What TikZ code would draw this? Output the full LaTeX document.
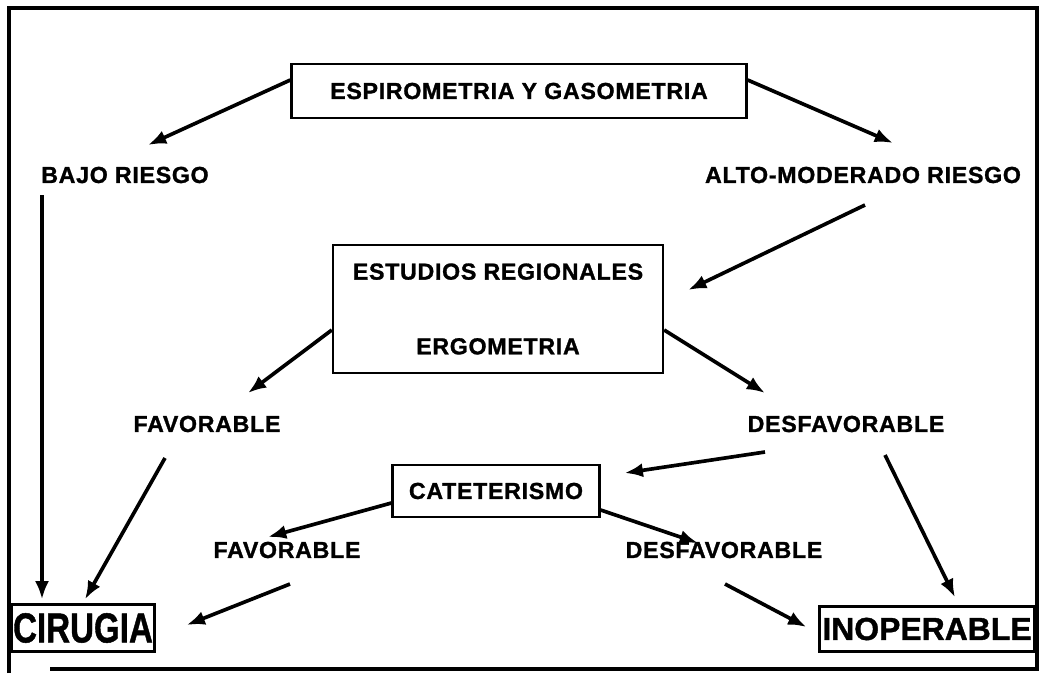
\documentclass[tikz,border=0pt]{standalone}
\usepackage{fontspec}
\setmainfont{Liberation Sans}
\newfontfamily\labelfont{Liberation Sans}[LetterSpace=3, BoldFeatures={FakeBold=1.2}]
\newfontfamily\bigfont{Liberation Sans}[BoldFeatures={FakeBold=1.2}]
\usetikzlibrary{arrows.meta}

\begin{document}
\begin{tikzpicture}[x=0.025cm, y=-0.025cm,
  font=\labelfont\bfseries\fontsize{16.5pt}{19pt}\selectfont,
  box/.style={draw, line width=1.6pt, inner sep=0pt, align=center},
  lbl/.style={inner sep=0pt},
  endbox/.style={box, font=\bigfont\bfseries\fontsize{#1}{34pt}\selectfont},
  arr/.style={-{Latex[length=13pt,width=10pt]}, line width=2.6pt}]
  \useasboundingbox (0,0) rectangle (1042,673);
  % frame
  \draw[line width=2.4pt] (9,673) -- (9,8) -- (1037,8) -- (1037,669) -- (50,669);
  % boxes and labels
  \node[box, minimum width=11.375cm, minimum height=1.35cm] (espiro) at (519,91) {ESPIROMETRIA Y GASOMETRIA};
  \node[lbl] (bajo) at (125,175) {BAJO RIESGO};
  \node[lbl] (alto) at (863,175) {ALTO-MODERADO RIESGO};
  \node[box, minimum width=8.25cm, minimum height=3.2cm] (estudios) at (498,309) {ESTUDIOS REGIONALES\\[1.2cm]ERGOMETRIA};
  \node[lbl] (fav) at (207,424) {FAVORABLE};
  \node[lbl] (desfav) at (846,424) {DESFAVORABLE};
  \node[box, minimum width=5.175cm, minimum height=1.3cm] (cat) at (496,491) {CATETERISMO};
  \node[lbl] (favcat) at (287,550) {FAVORABLE};
  \node[lbl] (desfavcat) at (724,550) {DESFAVORABLE};
  \node[endbox=29.8pt, minimum width=3.575cm, minimum height=1.175cm] (cirugia) at (83,628) {\scalebox{0.79}[1]{CIRUGIA}};
  \node[endbox=22.7pt, minimum width=5.375cm, minimum height=1.125cm] (inoper) at (927,629) {INOPERABLE};
  % arrows
  \draw[arr] ([shift={(0,-11)}]espiro.west) -- ([shift={(23,-30)}]bajo.center);
  \draw[arr] ([shift={(0,-11)}]espiro.east) -- ([shift={(30,-32)}]alto.center);
  \draw[arr] ([shift={(-83,20)}]bajo.center) -- ([shift={(-41,-4)}]cirugia.north);
  \draw[arr] ([shift={(2,30)}]alto.center) -- ([shift={(24,-19)}]estudios.east);
  \draw[arr] ([shift={(0,21)}]estudios.west) -- ([shift={(41,-31)}]fav.center);
  \draw[arr] ([shift={(0,21)}]estudios.east) -- ([shift={(-81,-31)}]desfav.center);
  \draw[arr] ([shift={(-42,34)}]fav.center) -- ([shift={(2,-4)}]cirugia.north);
  \draw[arr] ([shift={(-81,28)}]desfav.center) -- ([shift={(24,-18)}]cat.east);
  \draw[arr] ([shift={(39,31)}]desfav.center) -- ([shift={(28,-8)}]inoper.north);
  \draw[arr] ([shift={(0,12)}]cat.west) -- ([shift={(-19,-13)}]favcat.center);
  \draw[arr] ([shift={(0,19)}]cat.east) -- ([shift={(-26,-7)}]desfavcat.center);
  \draw[arr] ([shift={(3,34)}]favcat.center) -- ([shift={(31,-3)}]cirugia.east);
  \draw[arr] ([shift={(1,34)}]desfavcat.center) -- ([shift={(-12,-2)}]inoper.west);
\end{tikzpicture}
\end{document}
